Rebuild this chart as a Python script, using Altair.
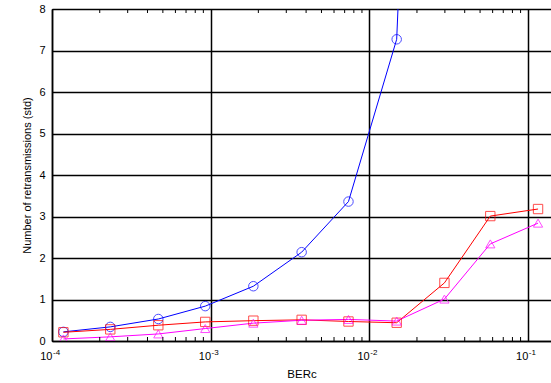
import altair as alt
import pandas as pd

# ---- data ----
ber = [1.18e-4, 2.33e-4, 4.68e-4, 9.25e-4, 1.86e-3, 3.75e-3, 7.4e-3, 1.49e-2, 2.98e-2, 5.8e-2, 1.16e-1]
blue_vals = [0.22, 0.34, 0.53, 0.84, 1.32, 2.14, 3.36, 7.27, 34.0]
red_vals = [0.21, 0.28, 0.38, 0.46, 0.49, 0.51, 0.47, 0.44, 1.40, 3.01, 3.18]
mag_vals = [0.05, 0.10, 0.17, 0.30, 0.43, 0.50, 0.52, 0.48, 1.01, 2.34, 2.84]
series_names = ["blue", "red", "magenta"]
series_colors = ["#0000ff", "#ff0000", "#ff00ff"]
series_shapes = ["circle", "square", "triangle-up"]
series_sizes = [90, 85, 105]

major_ticks = [1e-4, 1e-3, 1e-2, 1e-1]
major_exps = ["-4", "-3", "-2", "-1"]
minor_ticks = [m * 10.0 ** e for e in range(-4, -1) for m in range(2, 10)]
y_ticks = [0, 1, 2, 3, 4, 5, 6, 7, 8]

rows = []
for name, vals in zip(series_names, [blue_vals, red_vals, mag_vals]):
    for b, v in zip(ber, vals):
        rows.append({"series": name, "ber": b, "value": v})
df = pd.DataFrame(rows)

W, H = 499, 332
FONT = "Liberation Sans"

xscale = alt.Scale(type="log", domain=[1e-4, 0.14], nice=False)
yscale = alt.Scale(domain=[0, 8], nice=False)
cscale = alt.Scale(domain=series_names, range=series_colors)
sscale = alt.Scale(domain=series_names, range=series_shapes)
zscale = alt.Scale(domain=series_names, range=series_sizes)

x_axis = alt.Axis(
    values=major_ticks, labelExpr="'10'", labelAlign="right", labelBaseline="top",
    labelPadding=9, labelFontSize=11, labelFont=FONT, labelFlush=False,
    labelOverlap=False, labelBound=False, ticks=False, grid=True,
    gridColor="black", gridWidth=1.5, domainColor="black", domainWidth=1.5,
    title="BERc", titleFont=FONT, titleFontSize=11.5, titleFontWeight="normal",
    titlePadding=7,
)
y_axis = alt.Axis(
    values=y_ticks, format="d", labelPadding=7, labelFontSize=11, labelFont=FONT,
    labelFlush=False, ticks=False, grid=True, gridColor="black", gridWidth=1.5,
    domainColor="black", domainWidth=1.5,
    title="Number of retransmissions (std)", titleFont=FONT, titleFontSize=11,
    titleFontWeight="normal", titlePadding=6,
)
x_main = alt.X("ber:Q", scale=xscale, axis=x_axis)
y_main = alt.Y("value:Q", scale=yscale, axis=y_axis)

base = alt.Chart(df)
lines = base.mark_line(strokeWidth=1, clip=True).encode(
    x=x_main, y=y_main,
    color=alt.Color("series:N", scale=cscale, legend=None),
    order=alt.Order("ber:Q"),
)
points = base.mark_point(filled=False, strokeWidth=1, clip=True).encode(
    x=x_main, y=y_main,
    color=alt.Color("series:N", scale=cscale, legend=None),
    shape=alt.Shape("series:N", scale=sscale, legend=None),
    size=alt.Size("series:N", scale=zscale, legend=None),
)

minor_df = pd.DataFrame({"ber": minor_ticks})
bottom_ticks = alt.Chart(minor_df).mark_rule(color="black", strokeWidth=1).encode(
    x=x_main, y=alt.value(H), y2=alt.value(H - 4)
)
top_ticks = alt.Chart(minor_df).mark_rule(color="black", strokeWidth=1).encode(
    x=x_main, y=alt.value(0), y2=alt.value(4)
)

exp_df = pd.DataFrame({"ber": major_ticks, "e": major_exps})
exps = alt.Chart(exp_df).mark_text(
    align="left", baseline="middle", fontSize=8, font=FONT, dx=1, color="black"
).encode(
    x=x_main, y=alt.value(H + 12), text="e:N"
)

chart = alt.layer(lines, points, bottom_ticks, top_ticks, exps).properties(
    width=W, height=H,
    padding={"left": 52, "top": 9, "right": 0, "bottom": 42},
    autosize="none", background="white",
).configure_view(stroke="black", strokeWidth=1)

chart.save("out.html", embed_options={"renderer": "svg", "actions": False})
